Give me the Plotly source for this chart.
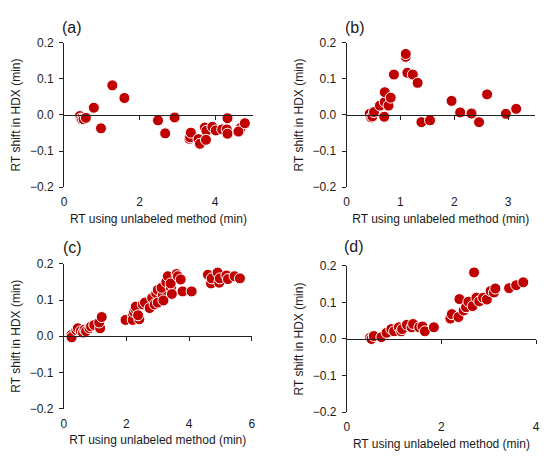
import plotly.graph_objects as go

# ---------------- data ----------------
a_x = [0.42, 0.45, 0.48, 0.52, 0.58, 0.79, 0.98, 1.28, 1.60, 2.49, 2.68, 2.93,
       3.32, 3.34, 3.36, 3.56, 3.60, 3.73, 3.77, 3.76, 3.93, 4.02, 4.19, 4.31,
       4.33, 4.33, 4.68, 4.62, 4.79]
a_y = [-0.003, -0.010, -0.012, -0.012, -0.008, 0.020, -0.037, 0.082, 0.047, -0.015, -0.051, -0.007,
       -0.066, -0.062, -0.049, -0.067, -0.080, -0.035, -0.044, -0.069, -0.033, -0.043, -0.040, -0.040,
       -0.009, -0.052, -0.036, -0.046, -0.023]

b_x = [0.43, 0.46, 0.48, 0.51, 0.62, 0.71, 0.71, 0.70, 0.78, 0.82, 0.88, 1.10, 1.10,
       1.13, 1.23, 1.32, 1.39, 1.55, 1.95, 2.11, 2.32, 2.46, 2.61, 2.96, 3.15]
b_y = [0.003, -0.007, -0.004, 0.008, 0.026, 0.036, 0.063, -0.005, 0.026, 0.048, 0.112, 0.161, 0.169,
       0.117, 0.112, 0.089, -0.020, -0.015, 0.039, 0.007, 0.004, -0.020, 0.057, 0.003, 0.017]

c_x = [0.24, 0.25, 0.40, 0.45, 0.54, 0.61, 0.66, 0.71, 0.82, 0.87, 0.97, 1.16, 1.13, 1.21,
       1.97, 2.20, 2.20, 2.24, 2.28, 2.30, 2.41, 2.37, 2.52, 2.59, 2.74, 2.82, 2.90,
       2.95, 3.00, 3.00, 3.16, 3.18, 3.12, 3.27, 3.32, 3.42, 3.45, 3.41, 3.60, 3.64, 3.73,
       3.79, 4.08, 4.60, 4.70, 4.72, 4.91, 4.96, 4.98, 5.19, 5.24, 5.45, 5.62]
c_y = [0.003, -0.003, 0.017, 0.022, 0.014, 0.010, 0.018, 0.014, 0.022, 0.027, 0.031, 0.022, 0.038, 0.053,
       0.045, 0.058, 0.045, 0.067, 0.076, 0.082, 0.047, 0.058, 0.088, 0.093, 0.078, 0.106, 0.088,
       0.119, 0.128, 0.093, 0.114, 0.099, 0.134, 0.150, 0.166, 0.134, 0.117, 0.146, 0.172, 0.166, 0.157,
       0.124, 0.124, 0.170, 0.146, 0.160, 0.176, 0.148, 0.160, 0.168, 0.158, 0.166, 0.160]

d_x = [0.49, 0.52, 0.57, 0.73, 0.84, 0.94, 1.00, 1.10, 1.15, 1.17, 1.27, 1.37, 1.40, 1.53,
       1.60, 1.65, 1.84, 2.19, 2.22, 2.36, 2.38, 2.47, 2.52, 2.57, 2.66, 2.69, 2.74, 2.80,
       2.88, 2.96, 3.04, 3.11, 3.14, 3.43, 3.58, 3.73]
d_y = [0.003, 0.000, 0.008, 0.005, 0.017, 0.027, 0.021, 0.032, 0.021, 0.027, 0.039, 0.032, 0.041, 0.032,
       0.034, 0.021, 0.032, 0.056, 0.068, 0.060, 0.109, 0.078, 0.087, 0.102, 0.090, 0.182, 0.113, 0.103,
       0.113, 0.108, 0.131, 0.127, 0.138, 0.139, 0.147, 0.155]

panel_labels = ["(a)", "(b)", "(c)", "(d)"]
x_ranges = [[0, 5], [0, 3.5], [0, 6], [0, 4]]
x_dticks = [2, 1, 2, 2]
x_title = "RT using unlabeled method (min)"
y_title = "RT shift in HDX (min)"
y_tickvals = [-0.2, -0.1, 0.0, 0.1, 0.2]

# ---------------- layout geometry (screen pixels of the reference) ----------------
OFF = 8            # page body margin in the browser
W, H = 550 - 2 * OFF, 461 - 2 * OFF


def px(x):
    return (x - OFF) / W


def py(y):
    return (H - (y - OFF)) / H


x_px = [(61.7, 253), (348, 539), (61.5, 252), (348.3, 540)]
y_px = [(185.7, 36.7), (185.7, 36.7), (414.3, 265), (418, 267)]
label_px = [(70, 21), (357, 21), (70, 248), (356, 247)]

RED = "#C00000"
TXT = "#1a1a1a"
AX = "#222222"
FONT = "Liberation Sans, Arial, sans-serif"

fig = go.Figure()
datasets = [(a_x, a_y), (b_x, b_y), (c_x, c_y), (d_x, d_y)]

layout = dict(
    width=W, height=H,
    margin=dict(l=0, r=0, t=0, b=0),
    paper_bgcolor="white", plot_bgcolor="white",
    showlegend=False,
    font=dict(family=FONT, size=12, color=TXT),
    annotations=[],
)

for i, (xs, ys) in enumerate(datasets):
    n = i + 1
    xa = "x" if n == 1 else f"x{n}"
    ya = "y" if n == 1 else f"y{n}"
    fig.add_trace(go.Scatter(
        x=xs, y=ys, mode="markers", xaxis=xa, yaxis=ya,
        marker=dict(color=RED, size=11, line=dict(color="white", width=1)),
        hoverinfo="skip",
    ))
    ov = 4 + n
    fig.add_trace(go.Scatter(x=[], y=[], xaxis=f"x{ov}", yaxis=ya, hoverinfo="skip"))

    xd = [px(x_px[i][0]), px(x_px[i][1])]
    yd = [py(y_px[i][0]), py(y_px[i][1])]
    layout["xaxis" if n == 1 else f"xaxis{n}"] = dict(
        domain=xd, anchor=ya, range=x_ranges[i], dtick=x_dticks[i], tick0=0,
        showgrid=False, zeroline=False, showline=False, ticks="",
        ticklabelstandoff=6,
        tickfont=dict(size=12, color=TXT),
        title=dict(text=x_title, font=dict(size=12, color=TXT), standoff=6),
    )
    # horizontal axis line drawn at y = 0 with its tick marks
    layout[f"xaxis{ov}"] = dict(
        domain=xd, anchor="free", overlaying=xa, position=(yd[0] + yd[1]) / 2,
        range=x_ranges[i], dtick=x_dticks[i], tick0=0,
        showgrid=False, zeroline=False, showline=True, linecolor=AX, linewidth=1,
        ticks="outside", ticklen=4, tickcolor=AX, showticklabels=False,
    )
    layout["yaxis" if n == 1 else f"yaxis{n}"] = dict(
        domain=yd, anchor=xa, range=[-0.2, 0.2], tickvals=y_tickvals, tickformat=".1f",
        showgrid=False, zeroline=False, showline=True, linecolor=AX, linewidth=1,
        ticks="outside", ticklen=4, tickcolor=AX, ticklabelstandoff=3,
        tickfont=dict(size=12, color=TXT),
        title=dict(text=y_title, font=dict(size=12, color=TXT), standoff=6),
    )
    lx, ly = label_px[i]
    layout["annotations"].append(dict(
        text=panel_labels[i], xref="paper", yref="paper",
        x=px(lx), y=py(ly), xanchor="center", yanchor="middle",
        showarrow=False, font=dict(size=16, color=TXT),
    ))

fig.update_layout(**layout)
fig.write_html("out.html")
